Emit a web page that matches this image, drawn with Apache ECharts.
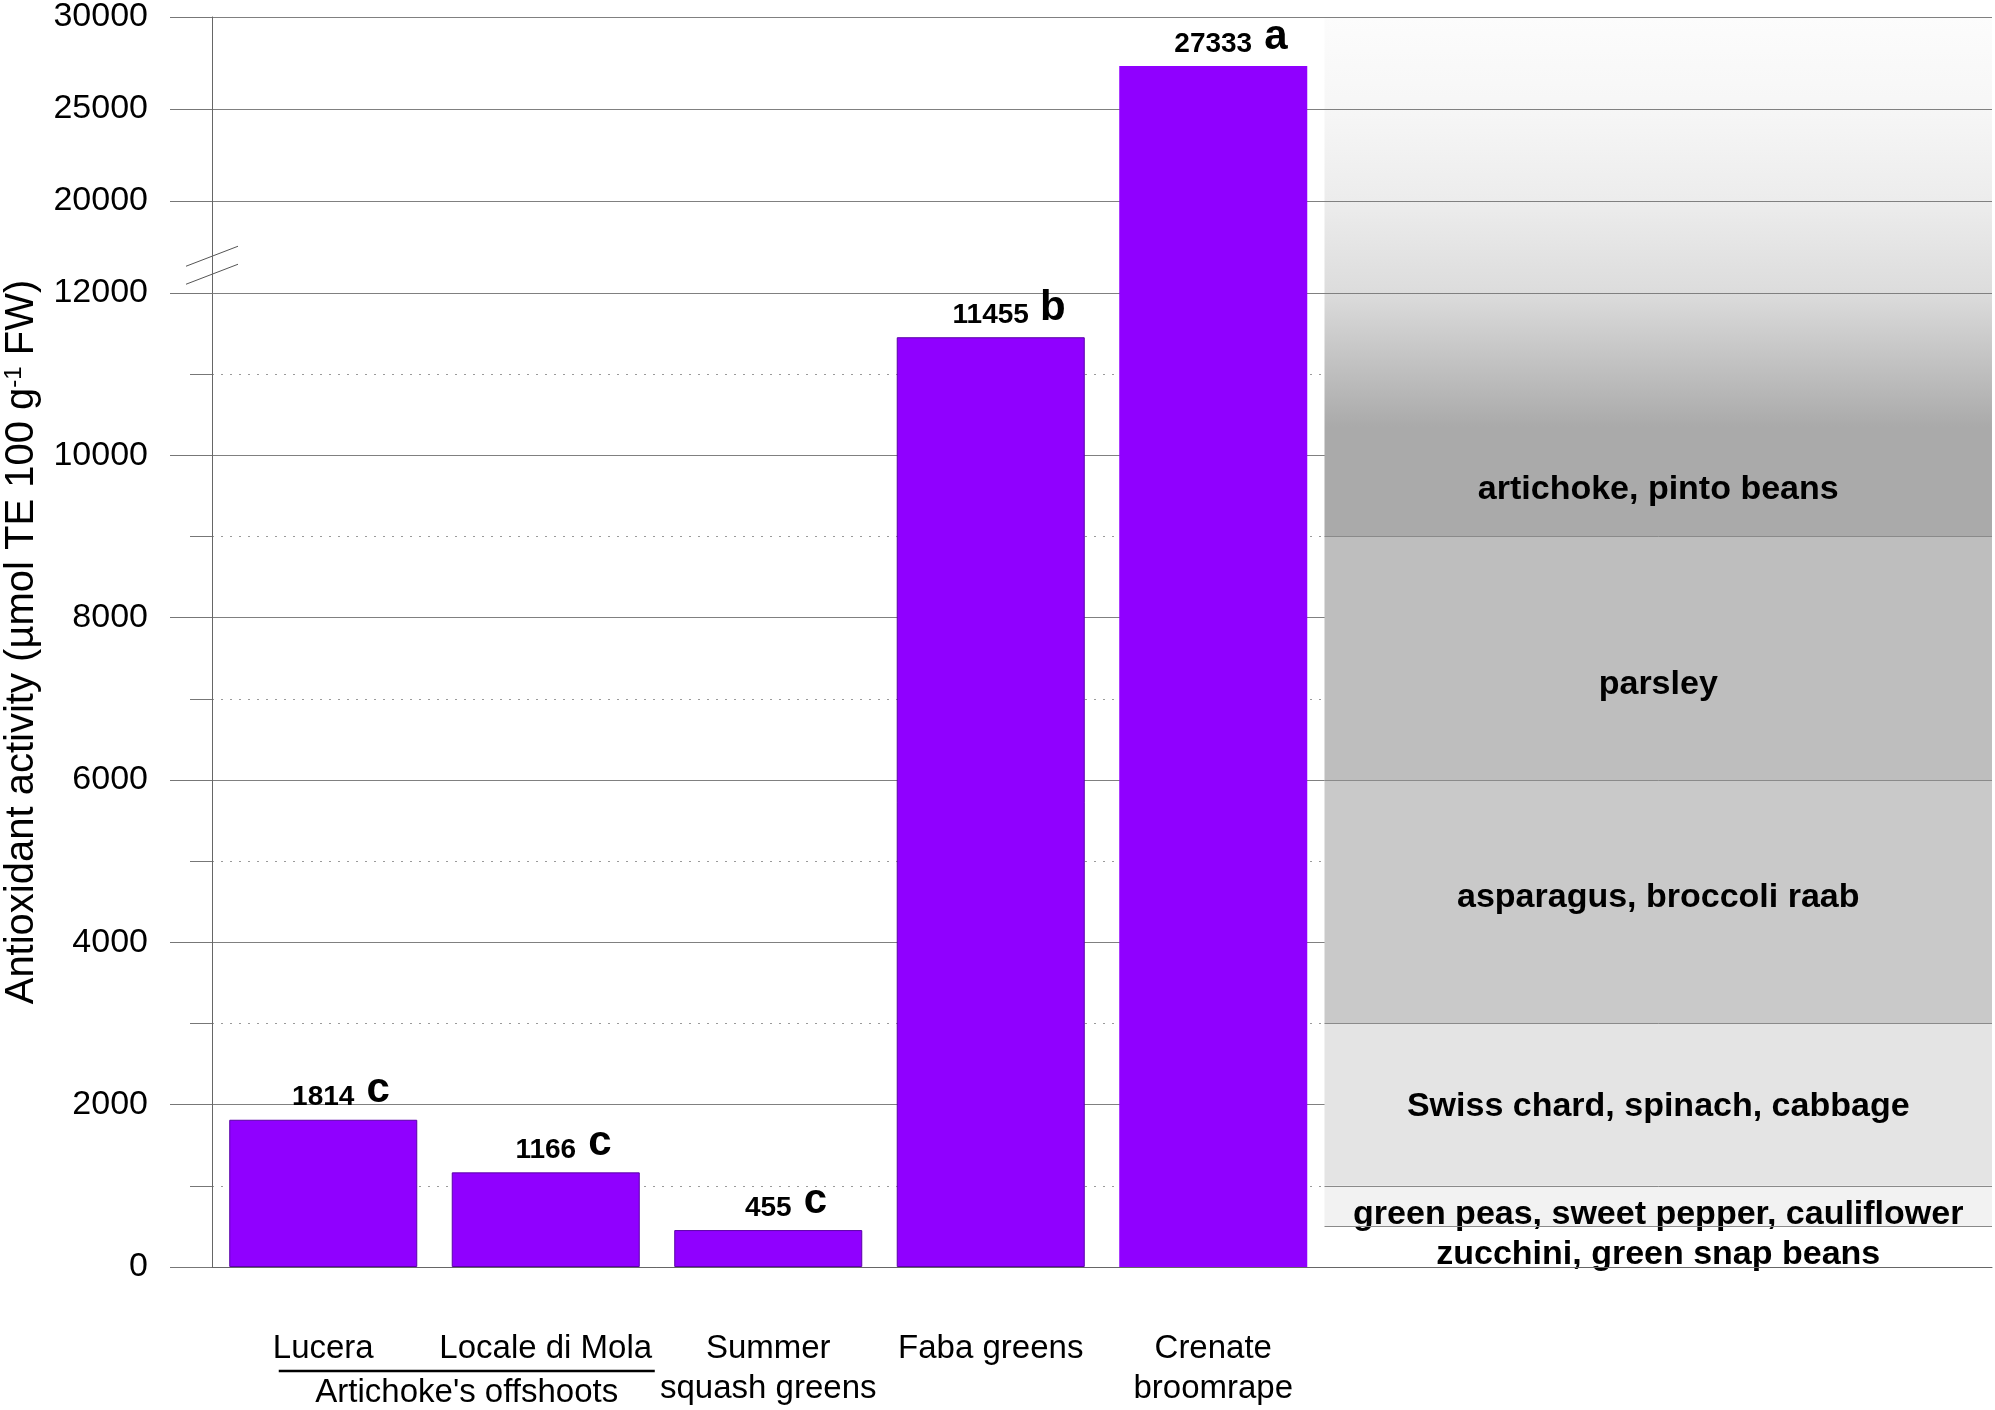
<!DOCTYPE html>
<html>
<head>
<meta charset="utf-8">
<title>Antioxidant activity</title>
<script src="https://cdn.jsdelivr.net/npm/echarts@6.0.0/dist/echarts.min.js"></script>
<style>
  html, body { margin: 0; padding: 0; background: #fff; }
  #chart { width: 1995px; height: 1410px; }
</style>
</head>
<body>
<div id="chart"></div>
<script>
// data
var categories = ['Lucera', 'Locale di Mola', 'Summer\nsquash greens', 'Faba greens', 'Crenate\nbroomrape', '', '', ''];
var activity = [1814, 1166, 455, 11455, 27333];
var letters = ['c', 'c', 'c', 'b', 'a'];
var groupLabel = "Artichoke's offshoots";

// lower / upper part of the broken y axis
var lowMin = 0, lowMax = 12000, lowStep = 2000;
var highMin = 15000, highMax = 30000, highStep = 5000;

// reference bands for other vegetables (right panel)
var bandFrom = [0, 500, 1000, 3000, 6000, 9000];
var bandTo = [500, 1000, 3000, 6000, 9000, 12000];
var bandNames = ['zucchini, green snap beans', 'green peas, sweet pepper, cauliflower',
  'Swiss chard, spinach, cabbage', 'asparagus, broccoli raab', 'parsley', 'artichoke, pinto beans'];
var bandLines = [500, 1000, 3000, 6000, 9000];

var FONT = "'Liberation Sans', Arial, sans-serif";
var BAR = '#9000ff';

var chart = echarts.init(document.getElementById('chart'));

var bandColors = [
  '#ffffff', '#f2f2f2', '#e4e4e4', '#c9c9c9', '#bebebe',
  new echarts.graphic.LinearGradient(0, 0, 0, 1, [
    { offset: 0, color: '#dcdcdc' },
    { offset: 0.55, color: '#aaaaaa' },
    { offset: 1, color: '#aaaaaa' }
  ])
];
var bandOffsets = [[0, 8], [0, 8], [0, 2], [0, -4], [0, 26], [0, 0]];

var bandAreas = bandFrom.map(function (v, i) {
  var lbl = { offset: bandOffsets[i] };
  if (i === 5) { lbl = { position: 'insideBottom', distance: 30 }; }
  return [
    { name: bandNames[i], xAxis: 5, yAxis: v, itemStyle: { color: bandColors[i] }, label: lbl },
    { xAxis: 8, yAxis: bandTo[i] }
  ];
});

var bandMarkLines = bandLines.map(function (v) {
  return [{ xAxis: 5, yAxis: v }, { xAxis: 8, yAxis: v }];
});

function barLabel(p) {
  return '{p|}{n|' + p.value + '}{l| ' + letters[p.dataIndex] + '}';
}
var labelRich = {
  p: { width: 36 },
  n: { fontSize: 28, fontWeight: 'bold', color: '#000', fontFamily: FONT, verticalAlign: 'bottom' },
  l: { fontSize: 42, fontWeight: 'bold', color: '#000', fontFamily: FONT, width: 36, align: 'left', verticalAlign: 'bottom' }
};

var lowData = activity.map(function (v) {
  if (v > lowMax) {
    return { value: v, label: { show: false }, itemStyle: { borderWidth: 0 } };
  }
  return v;
});
var highData = activity.map(function (v) {
  return v > lowMax ? { value: v, itemStyle: { borderWidth: 0 } } : '-';
});

function plainNumber(v) { return String(v); }

var option = {
  backgroundColor: '#fff',
  animation: false,
  textStyle: { fontFamily: FONT },
  grid: [
    { left: 212, right: 3, top: 293, height: 974 },
    { left: 212, right: 3, top: 16, height: 277 }
  ],
  xAxis: [
    {
      type: 'category', gridIndex: 0, data: categories, z: 3,
      axisLine: { lineStyle: { color: '#666', width: 1 } },
      axisTick: {
        alignWithLabel: true, length: 42, lineStyle: { color: '#777' },
        interval: function (i) { return i < 5; }
      },
      axisLabel: { interval: 0, margin: 62, fontSize: 33, lineHeight: 40, color: '#000', fontFamily: FONT }
    },
    { type: 'category', gridIndex: 1, data: categories, show: false },
    { type: 'value', gridIndex: 0, min: 0, max: 8, show: false },
    { type: 'value', gridIndex: 1, min: 0, max: 8, show: false }
  ],
  yAxis: [
    {
      type: 'value', gridIndex: 0, min: lowMin, max: lowMax, interval: lowStep,
      axisLine: { show: true, lineStyle: { color: '#666' } },
      axisTick: { show: true, length: 42, lineStyle: { color: '#777' } },
      minorTick: { show: true, splitNumber: 2, length: 22, lineStyle: { color: '#777' } },
      splitLine: { show: true, lineStyle: { color: '#808080' } },
      minorSplitLine: { show: true, lineStyle: { color: '#9a9a9a', type: [2, 7], width: 1 } },
      axisLabel: { margin: 64, fontSize: 34, color: '#000', fontFamily: FONT, formatter: plainNumber }
    },
    {
      type: 'value', gridIndex: 1, min: highMin, max: highMax, interval: highStep, z: 1.5,
      axisLine: { show: true, lineStyle: { color: '#666' } },
      axisTick: { show: true, length: 42, lineStyle: { color: '#777' } },
      splitLine: { show: true, lineStyle: { color: '#808080' } },
      axisLabel: { margin: 64, fontSize: 34, color: '#000', fontFamily: FONT, showMinLabel: false, formatter: plainNumber }
    }
  ],
  series: [
    {
      type: 'bar', xAxisIndex: 0, yAxisIndex: 0, data: lowData, barWidth: '84.5%',
      itemStyle: { color: BAR, borderColor: '#5a00a8', borderWidth: 1 },
      label: { show: true, position: 'top', distance: 8, formatter: barLabel, rich: labelRich }
    },
    {
      type: 'bar', xAxisIndex: 1, yAxisIndex: 1, data: highData, barWidth: '84.5%',
      itemStyle: { color: BAR, borderColor: '#5a00a8', borderWidth: 1 },
      label: { show: true, position: 'top', distance: 8, formatter: barLabel, rich: labelRich }
    },
    {
      type: 'line', xAxisIndex: 2, yAxisIndex: 0, data: [], silent: true,
      markArea: {
        silent: true,
        label: { show: true, position: 'inside', fontSize: 34, fontWeight: 'bold', color: '#000', fontFamily: FONT },
        data: bandAreas
      },
      markLine: {
        silent: true, symbol: 'none',
        label: { show: false },
        lineStyle: { color: '#8a8a8a', type: 'solid', width: 1 },
        data: bandMarkLines
      }
    },
    {
      type: 'line', xAxisIndex: 3, yAxisIndex: 1, data: [], silent: true,
      markArea: {
        silent: true,
        data: [[
          {
            xAxis: 5, yAxis: highMin,
            itemStyle: {
              color: new echarts.graphic.LinearGradient(0, 0, 0, 1, [
                { offset: 0, color: '#fcfcfc' },
                { offset: 0.35, color: '#f6f6f6' },
                { offset: 0.7, color: '#ebebeb' },
                { offset: 1, color: '#dcdcdc' }
              ])
            }
          },
          { xAxis: 8, yAxis: highMax }
        ]]
      }
    }
  ]
};

chart.setOption(option);

// decorations placed through the axes: break marks, y title, group label
var axisX = chart.convertToPixel({ xAxisIndex: 2 }, 0);
var breakY = chart.convertToPixel({ yAxisIndex: 1 }, 16400);
var topY = chart.convertToPixel({ yAxisIndex: 1 }, highMax);
var baseY = chart.convertToPixel({ yAxisIndex: 0 }, lowMin);
var c0 = chart.convertToPixel({ xAxisIndex: 0 }, 0);
var c1 = chart.convertToPixel({ xAxisIndex: 0 }, 1);
var band = c1 - c0;

chart.setOption({
  graphic: [
    {
      type: 'line', silent: true,
      shape: { x1: axisX - 26, y1: breakY - 1, x2: axisX + 26, y2: breakY - 21 },
      style: { stroke: '#555', lineWidth: 1 }
    },
    {
      type: 'line', silent: true,
      shape: { x1: axisX - 26, y1: breakY + 17, x2: axisX + 26, y2: breakY - 3 },
      style: { stroke: '#555', lineWidth: 1 }
    },
    {
      type: 'text', silent: true,
      x: 22, y: (topY + baseY) / 2, rotation: Math.PI / 2,
      style: {
        text: 'Antioxidant activity (µmol TE 100 g{sup|-1} FW)',
        font: '40px ' + FONT, fill: '#000',
        align: 'center', verticalAlign: 'middle',
        rich: { sup: { fontSize: 24, fontFamily: FONT, verticalAlign: 'top', fill: '#000' } }
      }
    },
    {
      type: 'line', silent: true,
      shape: { x1: c0 - 0.2 * band, y1: baseY + 104, x2: c1 + 0.49 * band, y2: baseY + 104 },
      style: { stroke: '#000', lineWidth: 2.5 }
    },
    {
      type: 'text', silent: true,
      x: (c0 - 0.2 * band + c1 + 0.49 * band) / 2, y: baseY + 126,
      style: {
        text: groupLabel, font: '33px ' + FONT, fill: '#000',
        align: 'center', verticalAlign: 'middle'
      }
    }
  ]
});
</script>
</body>
</html>
